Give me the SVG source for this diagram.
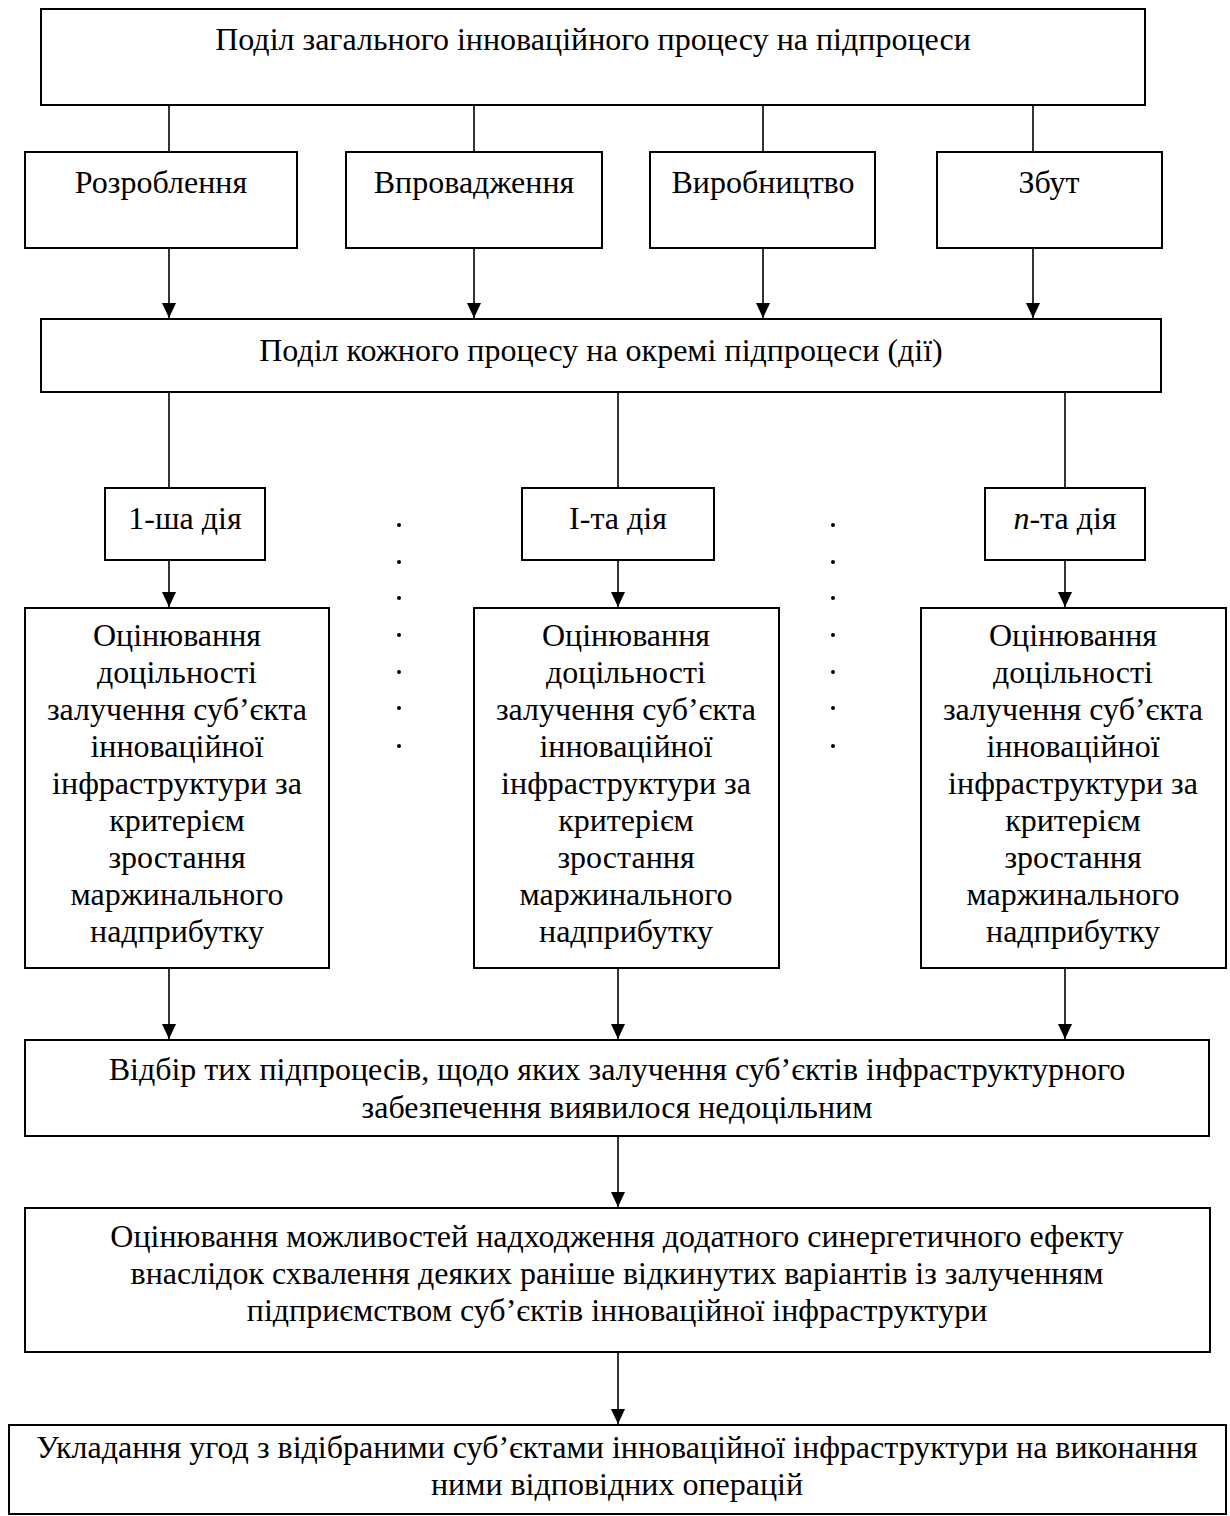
<svg xmlns="http://www.w3.org/2000/svg" width="1230" height="1516" viewBox="0 0 1230 1516">
<style>
  .box { fill: #ffffff; stroke: #000000; stroke-width: 2; }
  .ln { stroke: #000000; stroke-width: 1.6; fill: none; }
  .arr { stroke: #000000; stroke-width: 1.6; fill: none; marker-end: url(#ah); }
  text { font-family: "Liberation Serif", "Times New Roman", serif; font-size: 32px; fill: #000000; text-anchor: middle; }
  .dot { fill: #000000; }
</style>
<defs>
  <marker id="ah" markerUnits="userSpaceOnUse" viewBox="0 0 15 14" markerWidth="15" markerHeight="14" refX="15" refY="7" orient="auto">
    <path d="M0,0 L15,7 L0,14 z" fill="#000000"/>
  </marker>
</defs>
<rect width="1230" height="1516" fill="#ffffff"/>

<g id="connectors">
  <line class="ln" x1="169" y1="105" x2="169" y2="152"/>
  <line class="ln" x1="474" y1="105" x2="474" y2="152"/>
  <line class="ln" x1="763" y1="105" x2="763" y2="152"/>
  <line class="ln" x1="1033" y1="105" x2="1033" y2="152"/>
  <line class="arr" x1="169" y1="248" x2="169" y2="318"/>
  <line class="arr" x1="474" y1="248" x2="474" y2="318"/>
  <line class="arr" x1="763" y1="248" x2="763" y2="318"/>
  <line class="arr" x1="1033" y1="248" x2="1033" y2="318"/>
  <line class="ln" x1="169" y1="392" x2="169" y2="488"/>
  <line class="ln" x1="618" y1="392" x2="618" y2="488"/>
  <line class="ln" x1="1065" y1="392" x2="1065" y2="488"/>
  <line class="arr" x1="169" y1="560" x2="169" y2="607"/>
  <line class="arr" x1="618" y1="560" x2="618" y2="607"/>
  <line class="arr" x1="1065" y1="560" x2="1065" y2="607"/>
  <line class="arr" x1="169" y1="968" x2="169" y2="1039"/>
  <line class="arr" x1="618" y1="968" x2="618" y2="1039"/>
  <line class="arr" x1="1065" y1="968" x2="1065" y2="1039"/>
  <line class="arr" x1="618" y1="1136" x2="618" y2="1207"/>
  <line class="arr" x1="618" y1="1352" x2="618" y2="1424"/>
</g>

<g id="top">
  <rect class="box" x="41" y="9" width="1104" height="96"/>
  <text x="593" y="50">Поділ загального інноваційного процесу на підпроцеси</text>
</g>

<g id="rozroblennia">
  <rect class="box" x="25" y="152" width="272" height="96"/>
  <text x="161" y="193">Розроблення</text>
</g>
<g id="vprovadzhennia">
  <rect class="box" x="346" y="152" width="256" height="96"/>
  <text x="474" y="193">Впровадження</text>
</g>
<g id="vyrobnytstvo">
  <rect class="box" x="650" y="152" width="225" height="96"/>
  <text x="763" y="193">Виробництво</text>
</g>
<g id="zbut">
  <rect class="box" x="937" y="152" width="225" height="96"/>
  <text x="1049" y="193">Збут</text>
</g>

<g id="podil-kozhnoho">
  <rect class="box" x="41" y="319" width="1120" height="73"/>
  <text x="601" y="361">Поділ кожного процесу на окремі підпроцеси (дії)</text>
</g>

<g id="diia-1">
  <rect class="box" x="105" y="488" width="160" height="72"/>
  <text x="185" y="529">1-ша дія</text>
</g>
<g id="diia-i">
  <rect class="box" x="522" y="488" width="192" height="72"/>
  <text x="618" y="529">І-та дія</text>
</g>
<g id="diia-n">
  <rect class="box" x="985" y="488" width="160" height="72"/>
  <text x="1065" y="529"><tspan font-style="italic">n</tspan>-та дія</text>
</g>

<g id="dots">
  <circle class="dot" cx="399" cy="525" r="2"/>
  <circle class="dot" cx="399" cy="562" r="2"/>
  <circle class="dot" cx="399" cy="598" r="2"/>
  <circle class="dot" cx="399" cy="635" r="2"/>
  <circle class="dot" cx="399" cy="672" r="2"/>
  <circle class="dot" cx="399" cy="708" r="2"/>
  <circle class="dot" cx="399" cy="746" r="2"/>
  <circle class="dot" cx="833" cy="525" r="2"/>
  <circle class="dot" cx="833" cy="562" r="2"/>
  <circle class="dot" cx="833" cy="598" r="2"/>
  <circle class="dot" cx="833" cy="635" r="2"/>
  <circle class="dot" cx="833" cy="672" r="2"/>
  <circle class="dot" cx="833" cy="708" r="2"/>
  <circle class="dot" cx="833" cy="746" r="2"/>
</g>

<g id="otsiniuvannia-1">
  <rect class="box" x="25" y="608" width="304" height="360"/>
  <text x="177" y="646">Оцінювання</text>
  <text x="177" y="683">доцільності</text>
  <text x="177" y="720">залучення суб’єкта</text>
  <text x="177" y="757">інноваційної</text>
  <text x="177" y="794">інфраструктури за</text>
  <text x="177" y="831">критерієм</text>
  <text x="177" y="868">зростання</text>
  <text x="177" y="905">маржинального</text>
  <text x="177" y="942">надприбутку</text>
</g>
<g id="otsiniuvannia-i">
  <rect class="box" x="474" y="608" width="305" height="360"/>
  <text x="626" y="646">Оцінювання</text>
  <text x="626" y="683">доцільності</text>
  <text x="626" y="720">залучення суб’єкта</text>
  <text x="626" y="757">інноваційної</text>
  <text x="626" y="794">інфраструктури за</text>
  <text x="626" y="831">критерієм</text>
  <text x="626" y="868">зростання</text>
  <text x="626" y="905">маржинального</text>
  <text x="626" y="942">надприбутку</text>
</g>
<g id="otsiniuvannia-n">
  <rect class="box" x="921" y="608" width="305" height="360"/>
  <text x="1073" y="646">Оцінювання</text>
  <text x="1073" y="683">доцільності</text>
  <text x="1073" y="720">залучення суб’єкта</text>
  <text x="1073" y="757">інноваційної</text>
  <text x="1073" y="794">інфраструктури за</text>
  <text x="1073" y="831">критерієм</text>
  <text x="1073" y="868">зростання</text>
  <text x="1073" y="905">маржинального</text>
  <text x="1073" y="942">надприбутку</text>
</g>

<g id="vidbir">
  <rect class="box" x="25" y="1040" width="1184" height="96"/>
  <text x="617" y="1080">Відбір тих підпроцесів, щодо яких залучення суб’єктів інфраструктурного</text>
  <text x="617" y="1118">забезпечення виявилося недоцільним</text>
</g>

<g id="otsiniuvannia-mozhlyvostei">
  <rect class="box" x="25" y="1208" width="1185" height="144"/>
  <text x="617" y="1247">Оцінювання можливостей надходження додатного синергетичного ефекту</text>
  <text x="617" y="1284">внаслідок схвалення деяких раніше відкинутих варіантів із залученням</text>
  <text x="617" y="1321">підприємством суб’єктів інноваційної інфраструктури</text>
</g>

<g id="ukladannia">
  <rect class="box" x="9" y="1425" width="1217" height="89"/>
  <text x="617" y="1458">Укладання угод з відібраними суб’єктами інноваційної інфраструктури на виконання</text>
  <text x="617" y="1495">ними відповідних операцій</text>
</g>
</svg>
